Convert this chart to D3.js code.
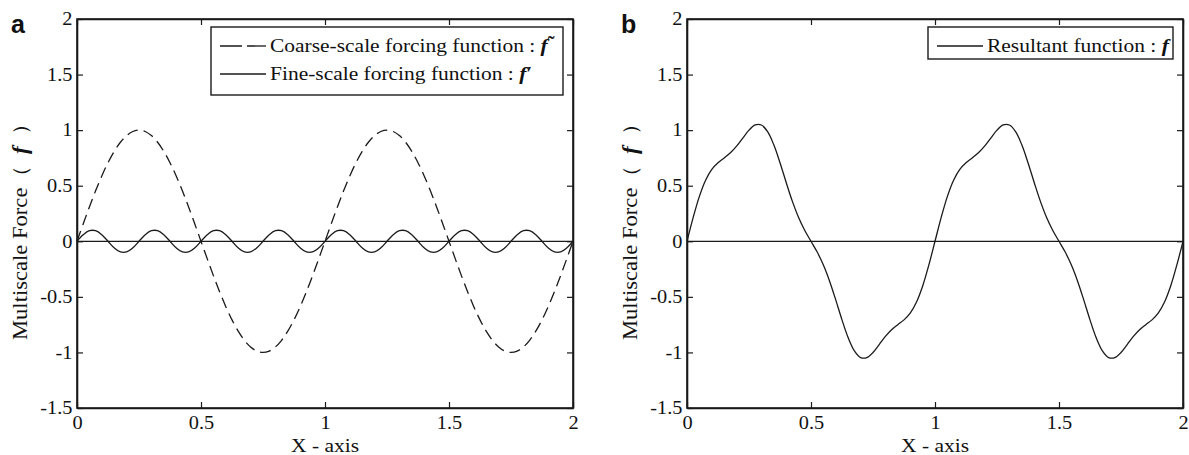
<!DOCTYPE html>
<html lang="en">
<head>
<meta charset="UTF-8">
<title>Multiscale forcing functions</title>
<script src="https://d3js.org/d3.v7.min.js"></script>
<style>
  body { margin: 0; background: #fff; }
  svg { display: block; }
  text { font-family: 'Liberation Serif', 'Times New Roman', serif; fill: #111; }
  .tick text { font-size: 18px; }
  .panel-letter { font-family: 'Liberation Sans', Arial, sans-serif; font-weight: bold; font-size: 25px; }
</style>
</head>
<body>
<svg width="1189" height="455"></svg>
<script>
// sample points along the x axis (step 0.025)
var xValues = [0,0.025,0.05,0.075,0.1,0.125,0.15,0.175,0.2,0.225,0.25,0.275,0.3,0.325,0.35,0.375,0.4,0.425,0.45,0.475,
  0.5,0.525,0.55,0.575,0.6,0.625,0.65,0.675,0.7,0.725,0.75,0.775,0.8,0.825,0.85,0.875,0.9,0.925,0.95,0.975,
  1,1.025,1.05,1.075,1.1,1.125,1.15,1.175,1.2,1.225,1.25,1.275,1.3,1.325,1.35,1.375,1.4,1.425,1.45,1.475,
  1.5,1.525,1.55,1.575,1.6,1.625,1.65,1.675,1.7,1.725,1.75,1.775,1.8,1.825,1.85,1.875,1.9,1.925,1.95,1.975,2];

// coarse-scale forcing (dashed, panel a)
var coarseValues = [0,0.156,0.309,0.454,0.588,0.707,0.809,0.891,0.951,0.988,1,0.988,0.951,0.891,0.809,0.707,0.588,0.454,0.309,0.156,
  0,-0.156,-0.309,-0.454,-0.588,-0.707,-0.809,-0.891,-0.951,-0.988,-1,-0.988,-0.951,-0.891,-0.809,-0.707,-0.588,-0.454,-0.309,-0.156,
  0,0.156,0.309,0.454,0.588,0.707,0.809,0.891,0.951,0.988,1,0.988,0.951,0.891,0.809,0.707,0.588,0.454,0.309,0.156,
  0,-0.156,-0.309,-0.454,-0.588,-0.707,-0.809,-0.891,-0.951,-0.988,-1,-0.988,-0.951,-0.891,-0.809,-0.707,-0.588,-0.454,-0.309,-0.156,0];

// fine-scale forcing (solid, panel a)
var fineValues = [0,0.059,0.095,0.095,0.059,0,-0.059,-0.095,-0.095,-0.059,
  0,0.059,0.095,0.095,0.059,0,-0.059,-0.095,-0.095,-0.059,
  0,0.059,0.095,0.095,0.059,0,-0.059,-0.095,-0.095,-0.059,
  0,0.059,0.095,0.095,0.059,0,-0.059,-0.095,-0.095,-0.059,
  0,0.059,0.095,0.095,0.059,0,-0.059,-0.095,-0.095,-0.059,
  0,0.059,0.095,0.095,0.059,0,-0.059,-0.095,-0.095,-0.059,
  0,0.059,0.095,0.095,0.059,0,-0.059,-0.095,-0.095,-0.059,
  0,0.059,0.095,0.095,0.059,0,-0.059,-0.095,-0.095,-0.059,0];

// resultant function (panel b)
var resultantValues = [0,0.215,0.404,0.549,0.647,0.707,0.750,0.796,0.856,0.929,1.000,1.047,1.046,0.986,0.868,0.707,0.529,0.359,0.214,0.097,
  0,-0.097,-0.214,-0.359,-0.529,-0.707,-0.868,-0.986,-1.046,-1.047,-1.000,-0.929,-0.856,-0.796,-0.750,-0.707,-0.647,-0.549,-0.404,-0.215,
  0,0.215,0.404,0.549,0.647,0.707,0.750,0.796,0.856,0.929,1.000,1.047,1.046,0.986,0.868,0.707,0.529,0.359,0.214,0.097,
  0,-0.097,-0.214,-0.359,-0.529,-0.707,-0.868,-0.986,-1.046,-1.047,-1.000,-0.929,-0.856,-0.796,-0.750,-0.707,-0.647,-0.549,-0.404,-0.215,0];

var xTicks = [0, 0.5, 1, 1.5, 2];
var xTickLabels = ["0", "0.5", "1", "1.5", "2"];
var yTicks = [-1.5, -1, -0.5, 0, 0.5, 1, 1.5, 2];
var yTickLabels = ["-1.5", "-1", "-0.5", "0", "0.5", "1", "1.5", "2"];

var svg = d3.select("svg");
var ink = "#1a1a1a";
var plotW = 496, plotH = 389;
var stretch = 1.13; // the original type is a bit wider than Liberation Serif

function toPoints(ys) {
    return xValues.map(function(x, i) { return [x, ys[i]]; });
}

function drawPanel(left, top, letter, series, legend) {
    var g = svg.append("g").attr("transform", "translate(" + left + "," + top + ")");
    var x = d3.scaleLinear().domain([0, 2]).range([0, plotW]);
    var y = d3.scaleLinear().domain([-1.5, 2]).range([plotH, 0]);

    // zero line
    g.append("line")
        .attr("x1", 0).attr("x2", plotW)
        .attr("y1", y(0)).attr("y2", y(0))
        .attr("stroke", ink).attr("stroke-width", 1.2);

    var line = d3.line()
        .x(function(d) { return x(d[0]); })
        .y(function(d) { return y(d[1]); })
        .curve(d3.curveCatmullRom.alpha(0.5));

    series.forEach(function(s) {
        g.append("path")
            .datum(toPoints(s.values))
            .attr("d", line)
            .attr("fill", "none")
            .attr("stroke", ink)
            .attr("stroke-width", 1.3)
            .attr("stroke-dasharray", s.dash || null);
    });

    // axes with inward ticks on all four sides
    var fmtX = function(d) { return xTickLabels[xTicks.indexOf(d)]; };
    var fmtY = function(d) { return yTickLabels[yTicks.indexOf(d)]; };

    g.append("g").attr("transform", "translate(0," + plotH + ")")
        .call(d3.axisBottom(x).tickValues(xTicks).tickFormat(fmtX).tickSizeInner(-6).tickSizeOuter(0).tickPadding(8));
    g.append("g")
        .call(d3.axisLeft(y).tickValues(yTicks).tickFormat(fmtY).tickSizeInner(-6).tickSizeOuter(0).tickPadding(4));
    g.append("g")
        .call(d3.axisTop(x).tickValues(xTicks).tickFormat("").tickSizeInner(-6).tickSizeOuter(0));
    g.append("g").attr("transform", "translate(" + plotW + ",0)")
        .call(d3.axisRight(y).tickValues(yTicks).tickFormat("").tickSizeInner(-6).tickSizeOuter(0));

    g.selectAll(".domain").attr("stroke", ink).attr("stroke-width", 1.6);
    g.selectAll(".tick line").attr("stroke", ink).attr("stroke-width", 1.2);
    g.selectAll(".tick text").attr("fill", ink).attr("transform", "scale(" + stretch + ",1)");

    // axis box
    g.append("rect").attr("width", plotW).attr("height", plotH)
        .attr("fill", "none").attr("stroke", ink).attr("stroke-width", 1.6);

    // axis titles
    g.append("text")
        .attr("transform", "translate(" + (plotW / 2) + "," + (plotH + 44) + ") scale(" + stretch + ",1)")
        .attr("text-anchor", "middle").attr("font-size", 19)
        .text("X - axis");

    var yl = g.append("text")
        .attr("transform", "translate(-50," + (plotH / 2 + 13) + ") rotate(-90) scale(" + stretch + ",1)")
        .attr("text-anchor", "middle").attr("font-size", 20);
    yl.append("tspan").text("Multiscale Force\uFF08\u2002");
    yl.append("tspan").attr("font-style", "italic").attr("font-weight", "bold").text("f");
    yl.append("tspan").text("\u2002\uFF09");

    svg.append("text").attr("class", "panel-letter")
        .attr("x", left - 66).attr("y", top + 14)
        .text(letter);

    // legend
    var lg = g.append("g").attr("transform", "translate(" + legend.x + "," + legend.y + ")");
    lg.append("rect").attr("width", legend.w).attr("height", legend.h)
        .attr("fill", "#fff").attr("stroke", ink).attr("stroke-width", 1.4);
    legend.items.forEach(function(it, i) {
        var cy = 19 + i * 28;
        lg.append("line").attr("x1", 9).attr("x2", 55).attr("y1", cy).attr("y2", cy)
            .attr("stroke", ink).attr("stroke-width", 1.3)
            .attr("stroke-dasharray", it.dash || null);
        var t = lg.append("text")
            .attr("transform", "translate(59," + (cy + 6) + ") scale(" + stretch + ",1)")
            .attr("font-size", 19);
        t.append("tspan").text(it.label);
        t.append("tspan").attr("font-style", "italic").attr("font-weight", "bold").text("f");
        if (it.mark) {
            t.append("tspan").attr("font-weight", "bold").attr("font-size", it.markSize || 19)
                .attr("dy", it.markDy || 0).text(it.mark);
        }
    });
}

drawPanel(77, 19, "a",
    [{ values: coarseValues, dash: "11,6" }, { values: fineValues }],
    { x: 134, y: 8, w: 352, h: 68, items: [
        { label: "Coarse-scale forcing function : ", dash: "22,5", mark: "\u02DC", markSize: 18, markDy: -3 },
        { label: "Fine-scale forcing function : ", mark: "\u2032" }
    ] });

drawPanel(687, 19, "b",
    [{ values: resultantValues }],
    { x: 241, y: 8, w: 245, h: 32, items: [
        { label: "Resultant function : " }
    ] });
</script>
</body>
</html>
